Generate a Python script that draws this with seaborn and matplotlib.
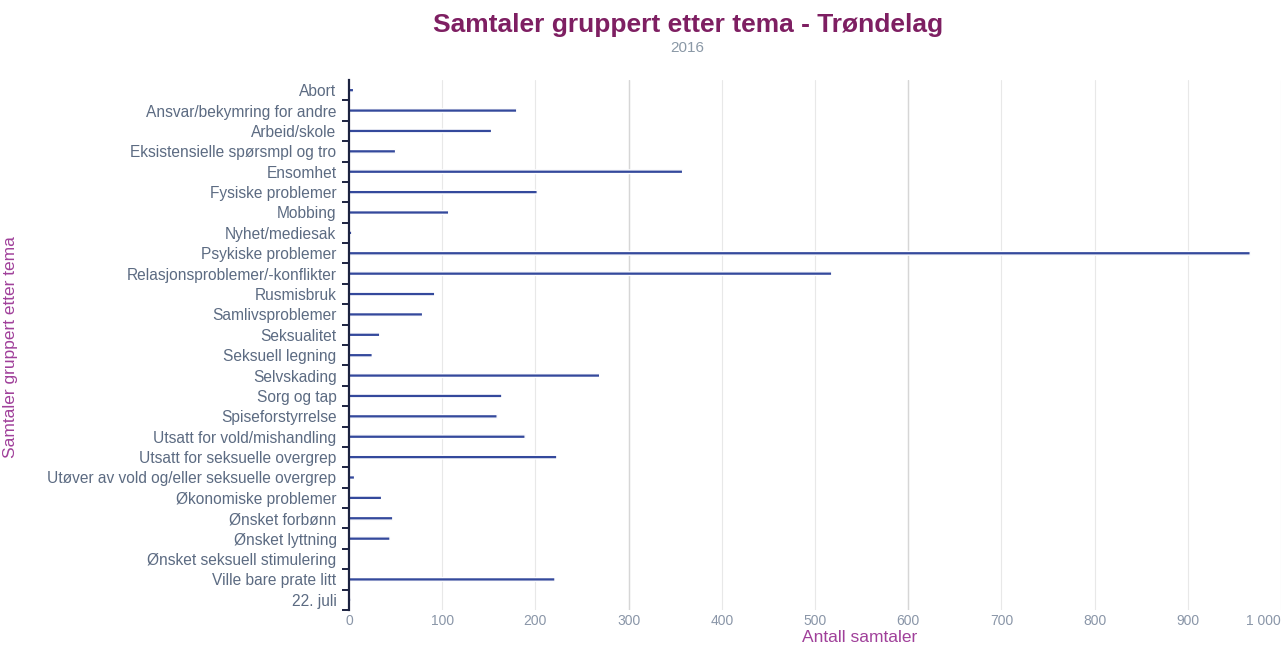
import matplotlib
matplotlib.use("Agg")
import matplotlib.pyplot as plt
import seaborn as sns
import pandas as pd
import numpy as np

categories = [
    "Abort", "Ansvar/bekymring for andre", "Arbeid/skole", "Eksistensielle spørsmpl og tro",
    "Ensomhet", "Fysiske problemer", "Mobbing", "Nyhet/mediesak", "Psykiske problemer",
    "Relasjonsproblemer/-konflikter", "Rusmisbruk", "Samlivsproblemer", "Seksualitet",
    "Seksuell legning", "Selvskading", "Sorg og tap", "Spiseforstyrrelse",
    "Utsatt for vold/mishandling", "Utsatt for seksuelle overgrep",
    "Utøver av vold og/eller seksuelle overgrep", "Økonomiske problemer", "Ønsket forbønn",
    "Ønsket lyttning", "Ønsket seksuell stimulering", "Ville bare prate litt", "22. juli",
]
values = [5, 180, 153, 50, 358, 202, 107, 3, 967, 518, 92, 79, 33, 25, 269, 164, 159,
          189, 223, 6, 35, 47, 44, 1, 221, 2]
x_ticks = [0, 100, 200, 300, 400, 500, 600, 700, 800, 900, 1000]
x_tick_labels = ["0", "100", "200", "300", "400", "500", "600", "700", "800", "900", "1 000"]

df = pd.DataFrame({"tema": categories, "antall": values})

sns.set_theme(style="white")
plt.rcParams["font.family"] = ["Liberation Sans", "DejaVu Sans"]

fig = plt.figure(figsize=(12.83, 6.48), dpi=100)
ax = fig.add_axes([349 / 1283, 1 - 610 / 648, (1281 - 349) / 1283, (610 - 80) / 648])

sns.barplot(data=df, x="antall", y="tema", orient="h", color="#34499c",
            width=0.18, ax=ax, saturation=1)
for p in ax.patches:
    p.set_snap(False)

ax.set_xlim(0, 1000)
ax.set_ylim(len(categories) - 0.5, -0.5)
ax.set_xticks(x_ticks)
ax.set_xticklabels(x_tick_labels)
ax.get_xticklabels()[-1].set_horizontalalignment("right")
for x in x_ticks[1:]:
    ax.axvline(x, color="#e8e8e8", lw=0.8, zorder=0)
ax.axvline(300, color="#d6d6d6", lw=1.0, zorder=0)
ax.axvline(600, color="#d6d6d6", lw=1.0, zorder=0)

for s in ["top", "right", "bottom"]:
    ax.spines[s].set_visible(False)
ax.spines["left"].set_color("#1c2340")
ax.spines["left"].set_linewidth(1.6)

ax.tick_params(axis="y", length=0, labelsize=11.2, labelcolor="#5c6b82", pad=9)
ax.tick_params(axis="x", length=0, labelsize=10, labelcolor="#8a96a8", pad=3)
ax.set_yticks(np.arange(len(categories)) + 0.5, minor=True)
ax.tick_params(axis="y", which="minor", length=5, width=1.4, color="#1c2340", left=True)

ax.set_xlabel("Antall samtaler", color="#a0409a", fontsize=12.5, va="center")
ax.xaxis.set_label_coords((860 - 349) / 932, (610 - 637) / 530)
ax.set_ylabel("Samtaler gruppert etter tema", color="#a0409a", fontsize=12.5)
ax.yaxis.set_label_coords(-0.355, 0.496)

fig.text(0.536, 0.962, "Samtaler gruppert etter tema - Trøndelag", ha="center", va="center",
         fontsize=19, fontweight="bold", color="#7e1f62")
fig.text(0.536, 0.926, "2016", ha="center", va="center", fontsize=11, color="#8a98a6")

fig.savefig("out.png", dpi=100)
